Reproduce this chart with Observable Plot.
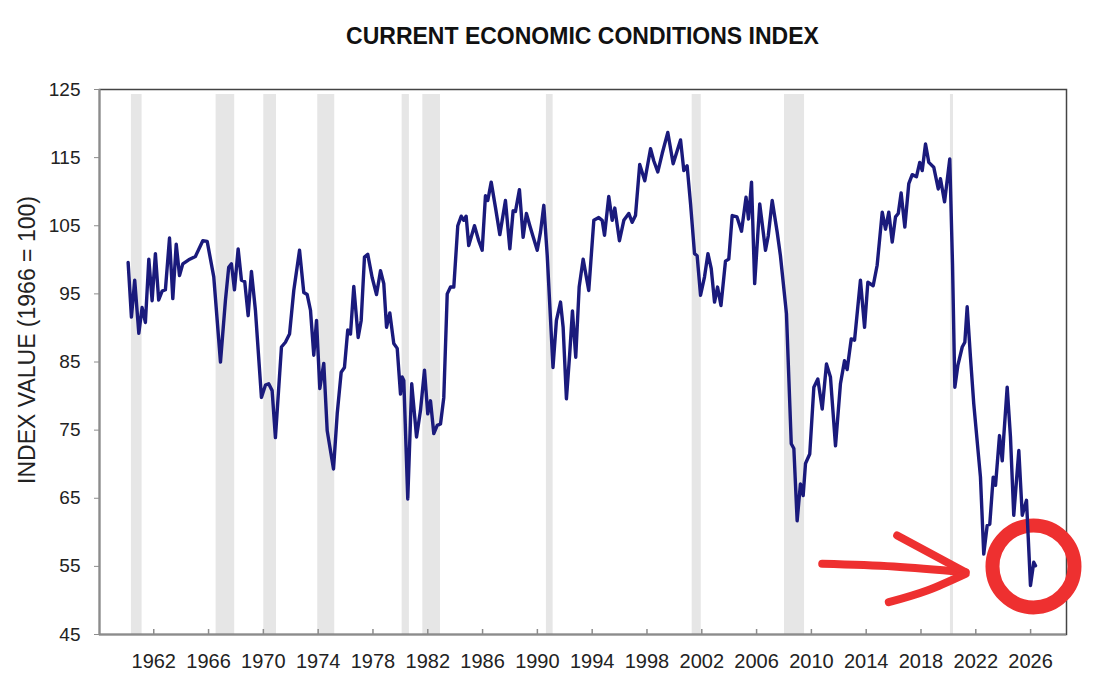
<!DOCTYPE html>
<html><head><meta charset="utf-8">
<script src="https://cdn.jsdelivr.net/npm/d3@7"></script>
<script src="https://cdn.jsdelivr.net/npm/@observablehq/plot@0.6"></script>
<style>
html,body{margin:0;padding:0;background:#fff;overflow:hidden;}
#title{box-sizing:border-box;width:1100px;height:60px;padding-top:25px;padding-left:65px;text-align:center;
  font-family:"Liberation Sans",Arial,sans-serif;font-weight:bold;font-size:23px;line-height:23px;color:#111;}
</style></head><body>
<div id="title">CURRENT ECONOMIC CONDITIONS INDEX</div>
<div id="chart"></div>
<script>
const years = [1960.13,1960.37,1960.61,1960.91,1961.15,1961.39,1961.64,1961.88,1962.12,1962.36,1962.61,1962.85,1963.15,1963.39,1963.64,1963.88,1964.12,1964.55,1965.04,1965.58,1965.90,1966.38,1966.87,1967.23,1967.47,1967.67,1967.89,1968.16,1968.40,1968.64,1968.89,1969.13,1969.42,1969.86,1970.15,1970.39,1970.64,1970.88,1971.32,1971.61,1971.91,1972.22,1972.64,1972.95,1973.20,1973.44,1973.68,1973.88,1974.12,1974.41,1974.66,1975.12,1975.39,1975.68,1975.92,1976.16,1976.36,1976.60,1976.92,1977.14,1977.38,1977.62,1977.94,1978.26,1978.55,1978.79,1978.99,1979.23,1979.52,1979.77,1980.01,1980.13,1980.25,1980.54,1980.83,1981.18,1981.47,1981.76,1982.00,1982.20,1982.44,1982.69,1982.93,1983.17,1983.42,1983.66,1983.90,1984.19,1984.44,1984.63,1984.80,1984.99,1985.41,1985.72,1985.97,1986.21,1986.38,1986.63,1986.94,1987.26,1987.67,1987.99,1988.23,1988.40,1988.69,1988.96,1989.20,1989.45,1989.69,1989.99,1990.23,1990.47,1990.72,1991.14,1991.39,1991.69,1991.88,1992.12,1992.36,1992.56,1992.80,1993.05,1993.34,1993.75,1994.12,1994.48,1994.73,1994.90,1995.21,1995.46,1995.65,1995.99,1996.31,1996.67,1996.92,1997.16,1997.47,1997.84,1998.26,1998.50,1998.79,1999.11,1999.52,1999.91,2000.45,2000.69,2000.93,2001.18,2001.47,2001.66,2001.91,2002.20,2002.45,2002.69,2002.93,2003.15,2003.40,2003.73,2003.97,2004.22,2004.57,2004.90,2005.23,2005.41,2005.63,2005.86,2006.23,2006.65,2006.85,2007.14,2007.50,2007.74,2008.18,2008.53,2008.72,2008.96,2009.20,2009.40,2009.57,2009.88,2010.18,2010.47,2010.79,2011.10,2011.39,2011.76,2012.12,2012.42,2012.61,2012.91,2013.15,2013.58,2013.88,2014.12,2014.51,2014.80,2015.17,2015.41,2015.65,2015.90,2016.14,2016.34,2016.55,2016.82,2017.11,2017.36,2017.67,2017.91,2018.09,2018.33,2018.57,2018.93,2019.26,2019.42,2019.72,2020.10,2020.30,2020.47,2020.69,2021.01,2021.20,2021.37,2021.61,2021.85,2022.34,2022.58,2022.83,2023.02,2023.27,2023.44,2023.73,2023.93,2024.04,2024.29,2024.53,2024.77,2025.14,2025.39,2025.70,2025.99,2026.23,2026.36];
const indexValues = [99.6,91.6,97.0,89.2,93.0,90.8,100.1,94.0,100.9,94.1,95.4,95.6,103.2,94.3,102.3,97.7,99.4,100.0,100.5,102.8,102.7,97.5,85.0,94.0,98.9,99.4,95.6,101.6,97.0,96.8,91.8,98.3,92.6,79.8,81.6,81.8,80.8,73.9,87.2,87.9,89.1,95.5,101.4,95.2,94.9,92.6,86.0,91.1,81.1,84.8,74.9,69.3,77.4,83.5,84.2,89.7,89.1,96.1,88.6,91.1,100.4,100.8,97.4,94.9,98.4,96.5,90.1,92.2,87.7,87.0,80.3,82.8,82.3,64.9,81.8,74.0,77.9,83.8,77.4,79.3,74.5,75.7,75.9,79.8,95.0,96.0,96.0,105.0,106.4,105.8,106.4,102.1,105.0,102.8,101.4,109.4,108.7,111.4,107.7,103.7,108.7,101.6,107.2,107.1,110.3,103.3,106.8,105.0,103.4,101.4,104.1,108.0,100.6,84.2,91.1,93.8,90.1,79.6,86.2,92.5,85.7,96.0,100.1,95.5,105.8,106.2,105.8,103.6,109.3,105.8,107.6,102.8,105.8,106.8,105.5,106.5,114.0,111.6,116.3,114.5,112.9,115.6,118.7,114.1,117.6,113.1,113.8,108.2,100.9,100.6,94.8,97.5,100.9,98.7,93.8,96.0,93.3,99.8,100.1,106.5,106.3,104.2,109.2,106.0,111.4,96.5,108.2,101.4,103.5,108.7,104.1,100.6,92.1,73.0,72.3,61.7,67.1,65.4,70.1,71.5,81.3,82.5,78.1,84.7,82.8,72.7,81.8,85.2,83.9,88.4,88.2,97.0,90.1,96.7,96.2,99.2,107.0,104.5,107.0,102.6,106.3,106.8,109.8,104.8,111.2,112.5,112.2,114.3,113.1,117.0,114.3,113.6,110.4,111.9,108.5,114.8,99.4,81.3,84.5,87.2,87.9,93.1,85.7,78.9,68.1,56.8,61.0,61.2,68.1,66.9,74.2,70.5,74.0,81.3,74.0,62.5,72.0,62.5,64.7,52.2,55.6,55.1];

const recessionStart = [1960.37,1966.55,1970.03,1973.97,1980.13,1981.64,1990.66,2001.30,2008.04,2020.15];
const recessionEnd   = [1961.15,1967.91,1970.96,1975.21,1980.66,1982.93,1991.15,2001.96,2009.50,2020.37];

const xTicks = [1962,1966,1970,1974,1978,1982,1986,1990,1994,1998,2002,2006,2010,2014,2018,2022,2026];
const yTicks = [45,55,65,75,85,95,105,115,125];
const xDomain = [1958.04, 2028.62];
const yDomain = [45, 125];
const yLabel = "INDEX VALUE (1966 = 100)";

// hand-drawn red annotation (arrow and circle), in data coordinates
const arrowShaft = [[2010.79,55.38],[2016.01,54.98],[2021.25,54.14]];
const arrowUpper = [[2016.26,59.53],[2021.25,54.14]];
const arrowLower = [[2015.65,49.74],[2018.45,51.46],[2021.25,53.9]];
const circleMark = [[2026.21,55.0]];

const series = years.map((y, i) => ({year: y, value: indexValues[i]}));
const recessions = recessionStart.map((s, i) => ({start: s, end: recessionEnd[i]}));
const strokes = [
  ...arrowShaft.map(p => ({k: "shaft", x: p[0], y: p[1]})),
  ...arrowUpper.map(p => ({k: "upper", x: p[0], y: p[1]})),
  ...arrowLower.map(p => ({k: "lower", x: p[0], y: p[1]}))
];
const red = "#ee3030";
const font = '"Liberation Sans", Arial, sans-serif';

const chart = Plot.plot({
  width: 1100, height: 631,
  marginTop: 29, marginBottom: 57, marginLeft: 99, marginRight: 34,
  style: {fontFamily: font, color: "#222", background: "white", overflow: "visible"},
  x: {type: "linear", domain: xDomain},
  y: {domain: yDomain},
  marks: [
    Plot.rect(recessions, {x1: "start", x2: "end", fill: "#e6e6e6", insetTop: 5}),
    Plot.frame({stroke: "#444", strokeWidth: 1.5}),
    Plot.ruleY([yDomain[0]], {stroke: "#8c8c8c", strokeWidth: 2}),
    Plot.ruleX([xDomain[0]], {stroke: "#8c8c8c", strokeWidth: 2}),
    Plot.tickX(xTicks, {x: d => d, insetTop: 540, stroke: "#8c8c8c", strokeWidth: 1.5}),
    Plot.axisY({ticks: yTicks, tickSize: 5, tickPadding: 14, fontSize: 19, stroke: "#8c8c8c", fill: "#222", label: null}),
    Plot.axisX({ticks: xTicks, tickSize: 0, tickPadding: 19, fontSize: 20, fill: "#222", label: null, tickFormat: d => String(d)}),
    Plot.text([yLabel], {text: d => d, frameAnchor: "left", textAnchor: "middle", lineAnchor: "middle", rotate: -90, dx: -72, dy: -22, fontSize: 23, fill: "#222", letterSpacing: 1}),
    Plot.line(strokes, {x: "x", y: "y", z: "k", stroke: red, strokeWidth: 8, strokeLinecap: "round", strokeLinejoin: "round", curve: "natural"}),
    Plot.dot(circleMark, {x: d => d[0], y: d => d[1], r: 41, stroke: red, strokeWidth: 14, fill: "none"}),
    Plot.line(series, {x: "year", y: "value", stroke: "#1a1a7c", strokeWidth: 3.4, strokeLinejoin: "round"})
  ]
});
document.getElementById("chart").appendChild(chart);
</script>
</body></html>
